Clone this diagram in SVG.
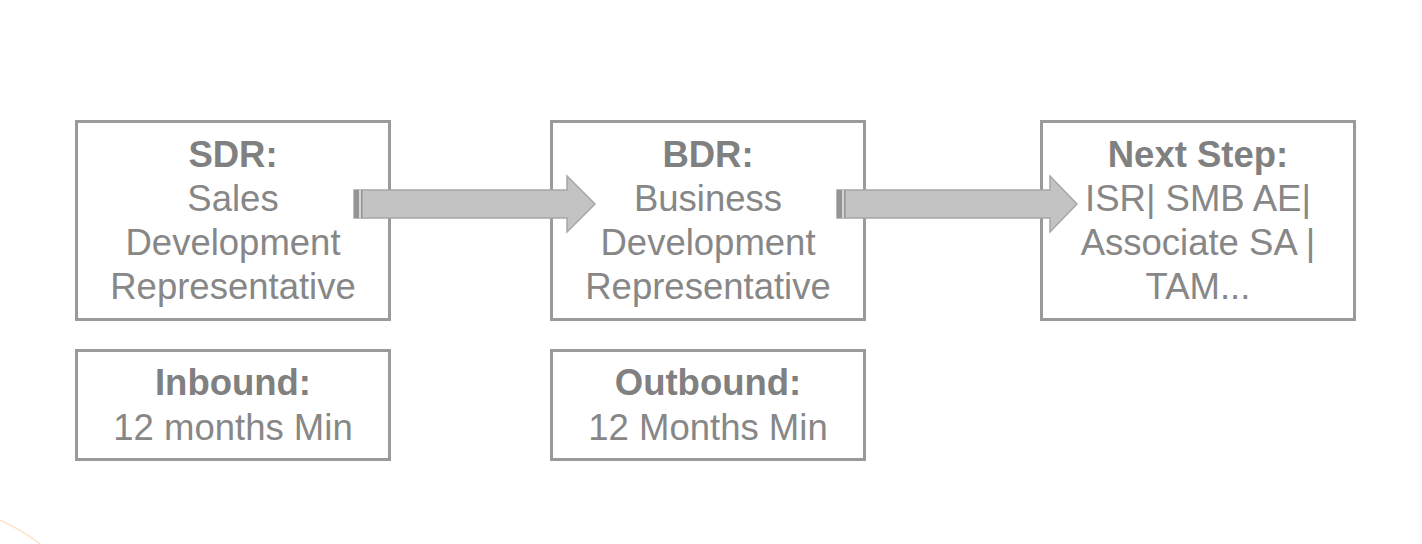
<svg xmlns="http://www.w3.org/2000/svg" width="1422" height="544" viewBox="0 0 1422 544">
<style>
.box{fill:#fff;stroke:#9a9a9a;stroke-width:3}
.t{font-family:"Liberation Sans",Arial,sans-serif;font-size:36.5px;fill:#878787;text-anchor:middle}
.b{font-weight:bold;fill:#808080}
.arrow{fill:#c3c3c3;stroke:#a6a6a6;stroke-width:1.5}
.cap1{fill:#949494}
.cap2{fill:#d6d6d6}
</style>
<rect width="1422" height="544" fill="#fff"/>
<path d="M0,520 Q25,532 40,544" fill="none" stroke="#fde3c6" stroke-width="1.5"/>
<g id="sdr">
<rect class="box" x="76.5" y="121.5" width="313" height="198"/>
<text class="t b" x="233" y="167">SDR:</text>
<text class="t" x="233" y="211">Sales</text>
<text class="t" x="233" y="255">Development</text>
<text class="t" x="233" y="299">Representative</text>
</g>
<g id="inbound">
<rect class="box" x="76.5" y="350.5" width="313" height="109"/>
<text class="t b" x="233" y="395">Inbound:</text>
<text class="t" x="233" y="440">12 months Min</text>
</g>
<g id="bdr">
<rect class="box" x="551.5" y="121.5" width="313" height="198"/>
<text class="t b" x="708" y="167">BDR:</text>
<text class="t" x="708" y="211">Business</text>
<text class="t" x="708" y="255">Development</text>
<text class="t" x="708" y="299">Representative</text>
</g>
<g id="outbound">
<rect class="box" x="551.5" y="350.5" width="313" height="109"/>
<text class="t b" x="708" y="395">Outbound:</text>
<text class="t" x="708" y="440">12 Months Min</text>
</g>
<g id="next">
<rect class="box" x="1041.5" y="121.5" width="313" height="198"/>
<text class="t b" x="1198" y="167">Next Step:</text>
<text class="t" x="1198" y="211">ISR| SMB AE|</text>
<text class="t" x="1198" y="255">Associate SA |</text>
<text class="t" x="1198" y="299">TAM...</text>
</g>
<g id="connectors">
<g id="arrow1">
<path class="arrow" d="M354,190 H567 V176 L595,204 L567,232 V218 H354 Z"/>
<rect class="cap1" x="354" y="190" width="5" height="28"/>
<rect class="cap2" x="359" y="190" width="2" height="28"/>
<rect class="cap1" x="361" y="190" width="1.5" height="28"/>
</g>
<g id="arrow2">
<path class="arrow" d="M837,190 H1050 V176 L1077,204 L1050,232 V218 H837 Z"/>
<rect class="cap1" x="837" y="190" width="5" height="28"/>
<rect class="cap2" x="842" y="190" width="2" height="28"/>
<rect class="cap1" x="844" y="190" width="1.5" height="28"/>
</g>
</g>
</svg>
